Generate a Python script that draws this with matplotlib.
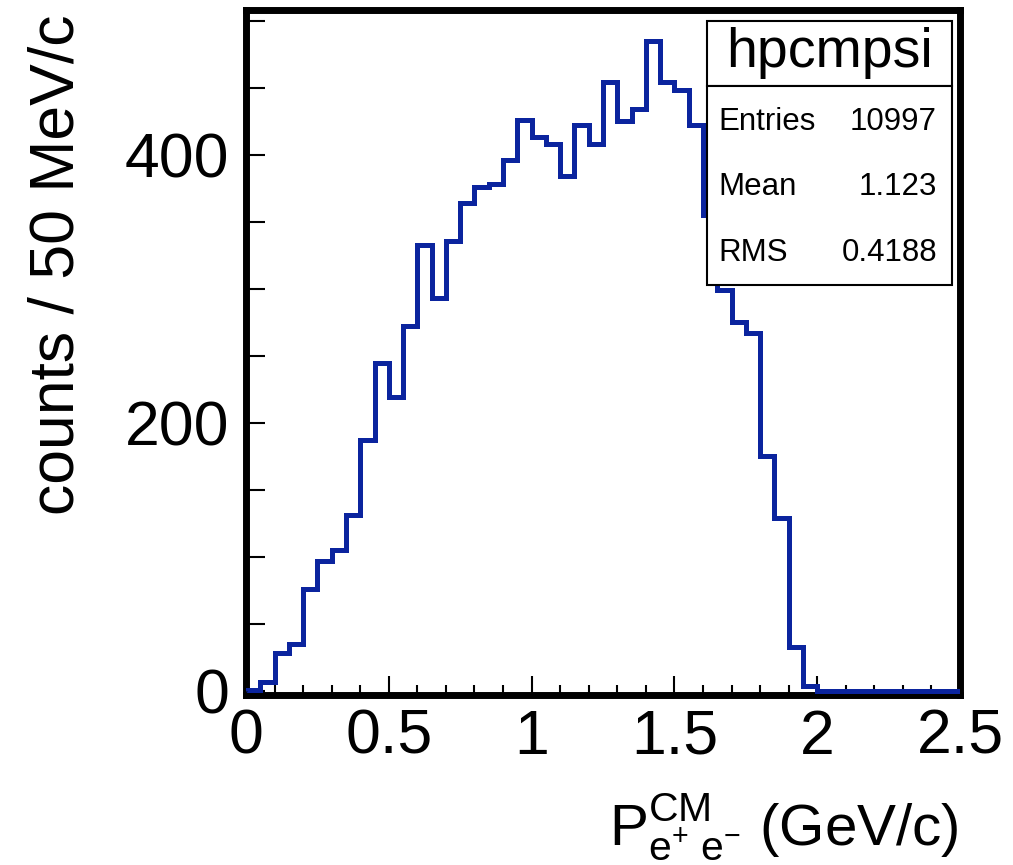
import numpy as np
import matplotlib
matplotlib.use('Agg')
import matplotlib.pyplot as plt
from matplotlib.patches import Rectangle
from matplotlib.ticker import MultipleLocator

# -------------------------
# DATA
# -------------------------
bin_width = 0.05
n_bins = 50
counts = [1, 7, 28, 35, 76, 97, 105, 131, 187, 245,
          219, 272, 333, 293, 336, 364, 376, 378, 396, 426,
          413, 408, 384, 422, 408, 454, 425, 434, 485, 454,
          448, 422, 355, 299, 275, 267, 175, 129, 33, 4,
          0, 0, 0, 0, 0, 0, 0, 0, 0, 0]
edges = np.arange(n_bins + 1) * bin_width

hist_name = 'hpcmpsi'
stat_names = ['Entries', 'Mean', 'RMS']
stat_values = ['10997', '1.123', '0.4188']

x_ticks = [0, 0.5, 1, 1.5, 2, 2.5]
x_ticklabels = ['0', '0.5', '1', '1.5', '2', '2.5']
y_ticks = [0, 200, 400]

plt.rcParams['font.family'] = ['Liberation Sans', 'DejaVu Sans']
plt.rcParams['mathtext.fontset'] = 'custom'
plt.rcParams['mathtext.rm'] = 'Liberation Sans'
plt.rcParams['mathtext.it'] = 'Liberation Sans'

W, H = 1013, 865
fig = plt.figure(figsize=(W / 100, H / 100), dpi=100)

# axes frame in pixels: left 246, right 960, top 10, bottom 695
ax = fig.add_axes([246 / W, 1 - 695 / H, (960 - 246) / W, (695 - 10) / H])

ax.stairs(counts, edges, color='#0b249e', linewidth=3.6, zorder=3)

ax.set_xlim(0, 2.5)
ax.set_ylim(-3, 508)

ax.set_xticks(x_ticks)
ax.set_xticklabels(x_ticklabels)
ax.xaxis.set_minor_locator(MultipleLocator(0.1))
ax.set_yticks(y_ticks)
ax.yaxis.set_minor_locator(MultipleLocator(50))

ax.tick_params(axis='both', which='both', direction='in', top=False, right=False,
               width=1.5, labelsize=45, colors='black')
ax.tick_params(axis='x', which='major', length=14, pad=9)
ax.tick_params(axis='x', which='minor', length=7)
ax.tick_params(axis='y', which='major', length=14, pad=12)
ax.tick_params(axis='y', which='minor', length=14)

for sp in ax.spines.values():
    sp.set_linewidth(5)

ax.set_ylabel('counts / 50 MeV/c', fontsize=45, loc='top')
ax.yaxis.set_label_coords(-0.224, 0.993)
ax.set_xlabel(r'$\mathregular{P^{CM}_{e^{+}\ e^{-}}}$ (GeV/c)', fontsize=42, loc='right')
ax.xaxis.set_label_coords(0.998, -0.14)

# -------------------------
# STATS BOX (pixels -> figure fraction)
# -------------------------
def fx(px):
    return px / W

def fy(py):
    return 1 - py / H

box_l, box_r = 707, 952
title_top, title_bot, stats_bot = 21, 86, 285

for top, bot in [(title_top, title_bot), (title_bot, stats_bot)]:
    fig.add_artist(Rectangle((fx(box_l), fy(bot)), fx(box_r) - fx(box_l), fy(top) - fy(bot),
                             transform=fig.transFigure, facecolor='white',
                             edgecolor='black', linewidth=1.5, zorder=5))

fig.text(fx((box_l + box_r) / 2), fy(67), hist_name, fontsize=40,
         ha='center', va='baseline', zorder=6)

row_baselines = [130, 195, 261]
for name, val, yb in zip(stat_names, stat_values, row_baselines):
    fig.text(fx(718), fy(yb), name, fontsize=22.5, ha='left', va='baseline', zorder=6)
    fig.text(fx(937), fy(yb), val, fontsize=22.5, ha='right', va='baseline', zorder=6)

fig.savefig('out.png', dpi=100)
